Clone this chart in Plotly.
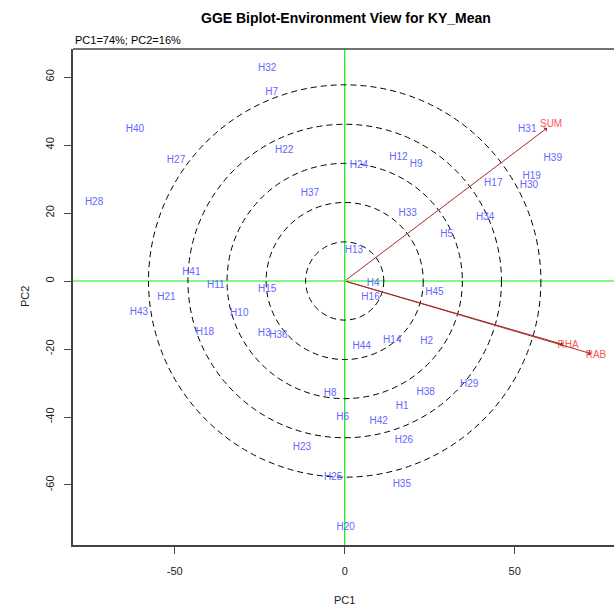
import plotly.graph_objects as go

# Genotype scores (PC1, PC2)
gen_names = ["H1","H2","H3","H4","H5","H6","H7","H8","H9","H10",
             "H11","H12","H13","H14","H15","H16","H17","H18","H19","H20",
             "H21","H22","H23","H24","H25","H26","H27","H28","H29","H30",
             "H31","H32","H33","H34","H35","H36","H37","H38","H39","H40",
             "H41","H42","H43","H44","H45"]
gen_pc1 = [16.9, 24.1, -23.7, 8.4, 30.0, -0.6, -21.5, -4.3, 21.0, -31.0,
           -37.9, 15.8, 2.7, 14.0, -22.8, 7.6, 43.7, -41.1, 55.0, 0.3,
           -52.4, -17.8, -12.6, 4.2, -3.4, 17.4, -49.6, -73.7, 36.6, 54.2,
           53.7, -22.8, 18.5, 41.3, 16.8, -19.5, -10.2, 23.8, 61.2, -61.7,
           -45.1, 10.0, -60.5, 5.0, 26.4]
gen_pc2 = [-37.0, -17.8, -15.4, -0.7, 13.8, -40.0, 55.5, -33.2, 34.4, -9.6,
           -1.4, 36.4, 9.1, -17.4, -2.6, -4.9, 28.7, -15.1, 30.7, -72.4,
           -4.9, 38.5, -49.0, 33.9, -57.9, -47.0, 35.3, 23.0, -30.3, 28.1,
           44.6, 62.6, 19.9, 18.6, -60.0, -15.9, 25.8, -32.9, 36.1, 44.6,
           2.6, -41.2, -9.2, -19.3, -3.4]

# Environment vectors
env_names = ["SUM", "RHA", "RAB"]
env_pc1 = [60.7, 65.7, 73.9]
env_pc2 = [45.9, -19.1, -21.8]

# Concentric circle radii
circle_radii = [11.5, 23.1, 34.6, 46.1, 57.7]

x_range = [-79.9, 79.2]
y_range = [-77.65, 68.24]
x_ticks = [-50, 0, 50]
y_ticks = [-60, -40, -20, 0, 20, 40, 60]

FONT = "Liberation Sans, Arial, sans-serif"

fig = go.Figure()

fig.add_trace(go.Scatter(
    x=gen_pc1, y=gen_pc2, text=gen_names, mode="text",
    textfont=dict(family=FONT, size=10, color="#6666FF"),
    textposition="middle center", hoverinfo="text", showlegend=False))

fig.add_trace(go.Scatter(
    x=env_pc1, y=env_pc2, text=env_names, mode="text",
    textfont=dict(family=FONT, size=10, color="#FF5555"),
    textposition="middle center", hoverinfo="text", showlegend=False))

shapes = []
for r in circle_radii:
    shapes.append(dict(type="circle", xref="x", yref="y", x0=-r, y0=-r, x1=r, y1=r,
                       line=dict(color="black", width=1, dash="6px,4px"), layer="below"))
shapes.append(dict(type="line", xref="x", yref="paper", x0=0, x1=0, y0=0, y1=1,
                   line=dict(color="#11EE11", width=1.2), layer="below"))
shapes.append(dict(type="line", xref="paper", yref="y", x0=0, x1=1, y0=0, y1=0,
                   line=dict(color="#11EE11", width=1.2), layer="below"))
# top border
shapes.append(dict(type="line", xref="paper", yref="paper", x0=0, x1=1, y0=1, y1=1,
                   line=dict(color="#444444", width=1.5)))

annotations = []
for ex, ey in zip(env_pc1, env_pc2):
    annotations.append(dict(x=ex, y=ey, ax=0, ay=0, xref="x", yref="y",
                            axref="x", ayref="y", text="", showarrow=True,
                            arrowhead=1, arrowsize=0.9, arrowwidth=1,
                            arrowcolor="#A52A2A", standoff=5))
annotations.append(dict(text="<b>GGE Biplot-Environment View for KY_Mean</b>",
                        xref="paper", yref="paper", x=0.5, y=1, xshift=2, yshift=31,
                        xanchor="center", yanchor="middle", showarrow=False,
                        font=dict(family=FONT, size=14, color="black")))
annotations.append(dict(text="PC1=74%; PC2=16%", xref="paper", yref="paper",
                        x=0, y=1, yshift=9, xanchor="left", yanchor="middle",
                        showarrow=False, font=dict(family=FONT, size=11, color="black")))
annotations.append(dict(text="PC1", xref="paper", yref="paper", x=0.5, y=0,
                        xshift=1, yshift=-55, xanchor="center", yanchor="middle",
                        showarrow=False, font=dict(family=FONT, size=11, color="#222")))
annotations.append(dict(text="PC2", xref="paper", yref="paper", x=0, y=0.5,
                        xshift=-48, yshift=0, xanchor="center", yanchor="middle", textangle=-90,
                        showarrow=False, font=dict(family=FONT, size=11, color="#222")))

fig.update_layout(
    width=614, height=605,
    margin=dict(l=73, r=0, t=49, b=60),
    plot_bgcolor="white", paper_bgcolor="white",
    shapes=shapes, annotations=annotations, showlegend=False,
    xaxis=dict(range=x_range, tickvals=x_ticks, ticktext=[str(v) for v in x_ticks],
               showgrid=False, zeroline=False, showline=True, linecolor="#444444",
               linewidth=1.5, ticks="outside", ticklen=7, tickcolor="#444444",
               tickfont=dict(family=FONT, size=11, color="#222"), ticklabelstandoff=8),
    yaxis=dict(range=y_range, tickvals=y_ticks, ticktext=[str(v) for v in y_ticks],
               showgrid=False, zeroline=False, showline=True, linecolor="#444444",
               linewidth=1.5, ticks="outside", ticklen=7, tickcolor="#444444",
               tickangle=-90,
               tickfont=dict(family=FONT, size=11, color="#222"), ticklabelstandoff=6),
)

fig.write_html("out.html")
